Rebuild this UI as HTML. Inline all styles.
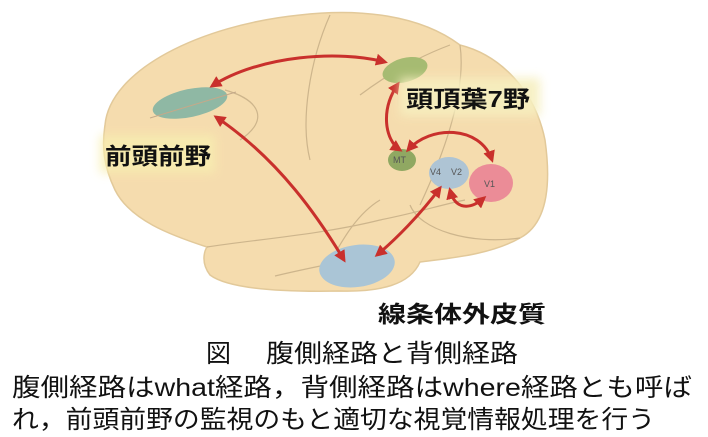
<!DOCTYPE html>
<html><head><meta charset="utf-8"><style>
html,body{margin:0;padding:0;background:#fff;width:708px;height:437px;overflow:hidden}
svg{display:block}
.j{font-family:"Liberation Sans","Noto Sans CJK JP",sans-serif}
</style></head><body>
<svg width="708" height="437" viewBox="0 0 708 437" xmlns="http://www.w3.org/2000/svg">
<defs>
<marker id="a" markerWidth="4" markerHeight="4" refX="3" refY="2" orient="auto-start-reverse" markerUnits="strokeWidth"><path d="M0,0 L4,2 L0,4 z" fill="#c9302c"/></marker>
<filter id="g" x="-20%" y="-40%" width="140%" height="180%"><feGaussianBlur stdDeviation="5"/></filter>
</defs>
<path d="M105,125 C110,70 200,25 300,15 C360,8 420,15 460,45 C500,55 535,90 545,140 C552,190 545,225 520,238 C490,255 450,258 420,262 C410,285 380,292 340,291 C290,292 230,290 210,275 C200,262 205,250 207,247 C170,235 130,220 115,190 C103,165 102,145 105,125 Z" fill="#f5dcae" stroke="#e2c99a" stroke-width="1.5"/>
<g fill="none" stroke="#cdb58c" stroke-width="1.2">
<path d="M207,247 C250,240 320,235 380,220 C420,212 440,205 465,200"/>
<path d="M330,15 C310,60 300,120 310,160"/>
<path d="M460,45 C465,80 455,130 420,205"/>
<path d="M410,205 C420,230 470,245 520,238"/>
<path d="M225,90 C260,100 270,120 240,140"/>
<path d="M380,200 C355,215 340,245 330,262"/>
<path d="M275,276 C300,270 320,266 340,262"/>
<path d="M360,95 C380,80 410,60 450,45"/>
</g>
<ellipse cx="190" cy="103" rx="38" ry="14" transform="rotate(-12 190 103)" fill="#8fb8a4"/>
<path d="M150,118 L236,92" stroke="#c4a98a" stroke-width="1"/>
<ellipse cx="405" cy="70" rx="23" ry="12" transform="rotate(-15 405 70)" fill="#a6bb72"/>
<ellipse cx="402" cy="160" rx="14" ry="11" fill="#90a862"/>
<ellipse cx="449" cy="173" rx="20" ry="16" fill="#aec4d4"/>
<ellipse cx="491" cy="183" rx="22" ry="19" fill="#eb8c97"/>
<ellipse cx="357" cy="266" rx="38" ry="21" transform="rotate(-8 357 266)" fill="#aac5d6"/>
<g font-family="Liberation Sans,sans-serif" font-size="9" fill="#555">
<text x="393" y="163">MT</text><text x="430" y="175">V4</text><text x="451" y="175">V2</text><text x="484" y="187">V1</text>
</g>
<g fill="none" stroke="#c9302c" stroke-width="3" marker-start="url(#a)" marker-end="url(#a)">
<path d="M212,86 C260,55 340,50 385,62"/>
<path d="M398,84 C380,110 385,140 400,150"/>
<path d="M408,150 C430,125 480,125 492,160"/>
<path d="M450,190 C455,210 470,210 484,198"/>
<path d="M216,117 C280,160 320,220 344,260"/>
<path d="M440,188 C420,215 395,240 377,255"/>
</g>
<rect x="100" y="135" width="115" height="38" fill="#f8efb0" opacity="0.8" filter="url(#g)"/>
<rect x="400" y="78" width="140" height="38" fill="#f6efbf" opacity="0.9" filter="url(#g)"/>
<g class="j" font-weight="bold" font-size="23" fill="#111">
<text x="105" y="164" textLength="106" lengthAdjust="spacingAndGlyphs">前頭前野</text>
<text x="406" y="107" textLength="124" lengthAdjust="spacingAndGlyphs">頭頂葉7野</text>
<text x="378" y="322" textLength="168" lengthAdjust="spacingAndGlyphs">線条体外皮質</text>
</g>
<g class="j" font-size="25" fill="#111">
<text x="206" y="362">図</text>
<text x="266" y="362" textLength="252" lengthAdjust="spacingAndGlyphs">腹側経路と背側経路</text>
<text x="12" y="396" textLength="680" lengthAdjust="spacingAndGlyphs">腹側経路はwhat経路，背側経路はwhere経路とも呼ば</text>
<text x="12" y="428" textLength="643" lengthAdjust="spacingAndGlyphs">れ，前頭前野の監視のもと適切な視覚情報処理を行う</text>
</g>
</svg>
</body></html>
